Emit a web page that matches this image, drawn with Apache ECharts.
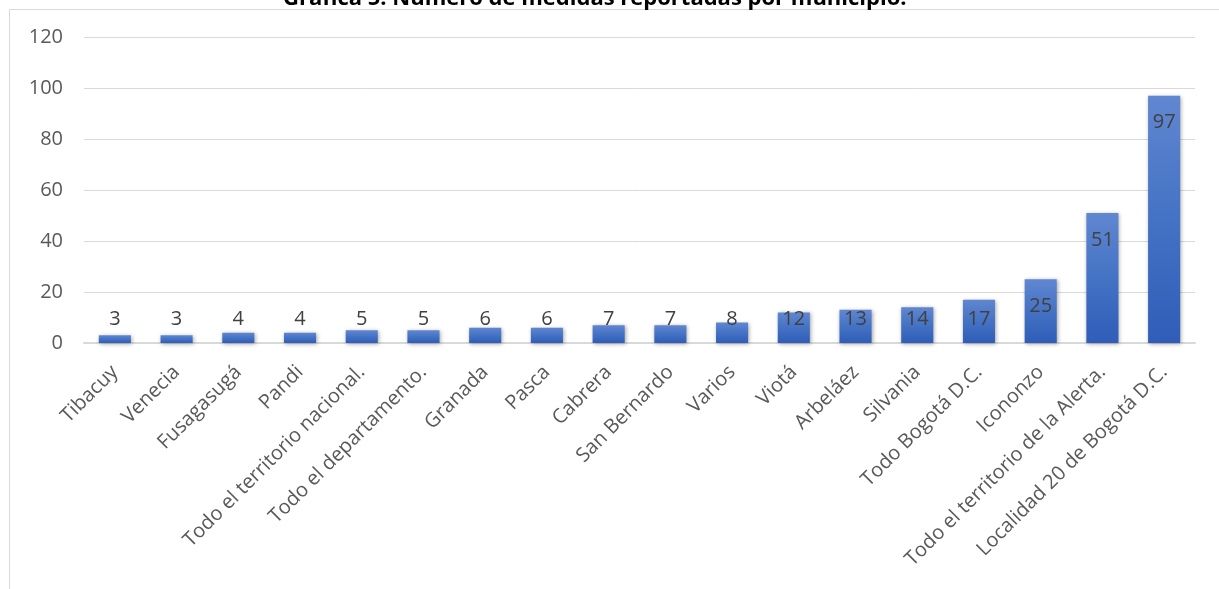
<!DOCTYPE html>
<html>
<head>
<meta charset="utf-8">
<script src="https://cdn.jsdelivr.net/npm/echarts@6/dist/echarts.min.js"></script>
<style>
html,body{margin:0;padding:0;background:#fff;}
#chart{width:1219px;height:589px;}
</style>
</head>
<body>
<div id="chart"></div>
<script>
const titleText = 'Gráfica 5. Número de medidas reportadas por municipio.';
const categories = ['Tibacuy','Venecia','Fusagasugá','Pandi','Todo el territorio nacional.','Todo el departamento.','Granada','Pasca','Cabrera','San Bernardo','Varios','Viotá','Arbeláez','Silvania','Todo Bogotá D.C.','Icononzo','Todo el territorio de la Alerta.','Localidad 20 de Bogotá D.C.'];
const values = [3,3,4,4,5,5,6,6,7,7,8,12,13,14,17,25,51,97];
const yTicks = {min:0, max:120, interval:20};

const fontFam = '"Open Sans", "Liberation Sans", sans-serif';
const seriesData = values.map(v => ({
  value: v,
  label: v > 20
    ? {position:'insideTop', distance:17}
    : {position:'insideBottom', distance:14}
}));

const chart = echarts.init(document.getElementById('chart'));
chart.setOption({
  animation:false,
  backgroundColor:'#ffffff',
  title:{
    text:titleText, left:278, top:-17,
    textStyle:{fontFamily:fontFam, fontWeight:'bold', fontSize:22, color:'#000000'}
  },
  graphic:[{
    type:'rect', z:-1,
    shape:{x:9.5, y:9.5, width:1400, height:800},
    style:{fill:'none', stroke:'#D9D9D9', lineWidth:1}
  }],
  grid:{left:84, right:24, top:37, bottom:246, containLabel:false},
  xAxis:{
    type:'category', data:categories,
    axisLine:{lineStyle:{color:'#D9D9D9', width:2}},
    axisTick:{show:false},
    axisLabel:{rotate:45, interval:0, margin:26, fontSize:20, color:'#595959', fontFamily:fontFam}
  },
  yAxis:{
    type:'value', min:yTicks.min, max:yTicks.max, interval:yTicks.interval,
    axisLine:{show:false}, axisTick:{show:false},
    splitLine:{lineStyle:{color:'#D9D9D9', width:1}},
    axisLabel:{margin:21, fontSize:20, color:'#595959', fontFamily:fontFam}
  },
  series:[{
    type:'bar', data:seriesData, barWidth:'52%',
    itemStyle:{
      color:new echarts.graphic.LinearGradient(0,0,0,1,[
        {offset:0, color:'#6087D1'},
        {offset:0.5, color:'#4472C4'},
        {offset:1, color:'#2F5DB8'}
      ]),
      shadowColor:'rgba(0,0,0,0.35)', shadowBlur:4, shadowOffsetX:1, shadowOffsetY:1
    },
    label:{show:true, fontSize:20, color:'#404040', fontFamily:fontFam}
  }]
});
</script>
</body>
</html>
